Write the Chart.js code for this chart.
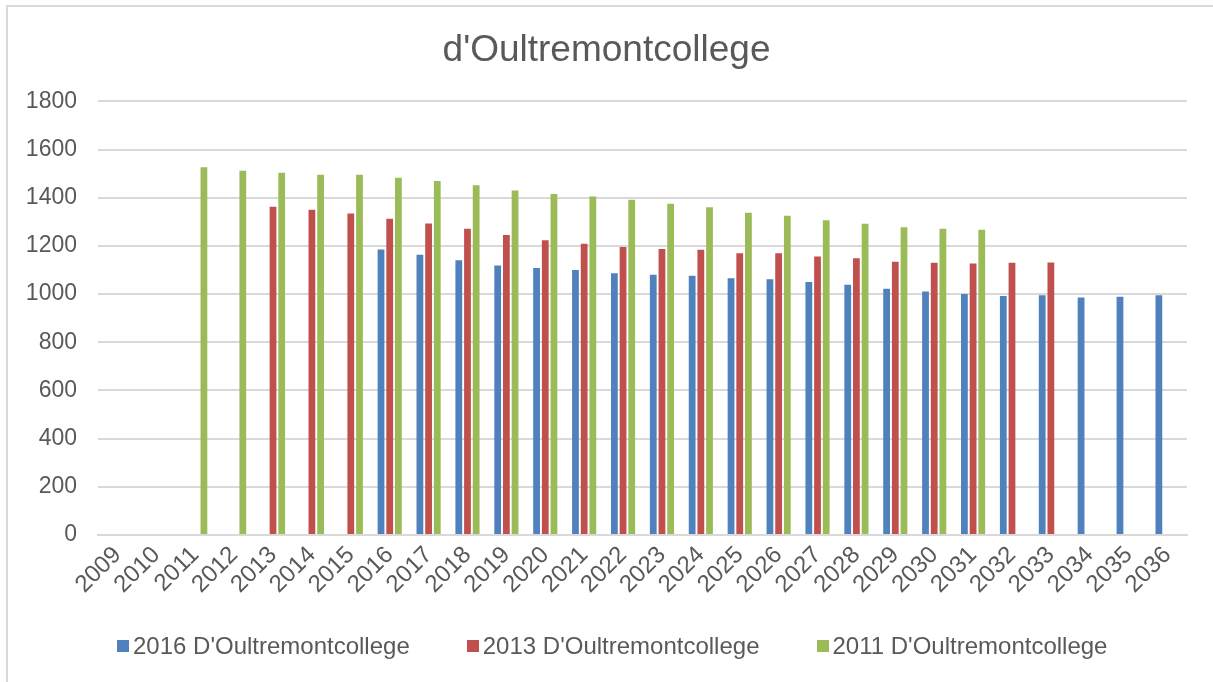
<!DOCTYPE html>
<html>
<head>
<meta charset="utf-8">
<script src="https://cdn.jsdelivr.net/npm/chart.js@4.4.0/dist/chart.umd.min.js"></script>
<style>
  html, body { margin: 0; padding: 0; background: #fff; overflow: hidden; }
  #wrap { position: relative; width: 1213px; height: 682px; overflow: hidden; font-family: 'Liberation Sans', Arial, sans-serif; }
  #frame { position: absolute; left: 6px; top: 5px; width: 1240px; height: 700px; border-left: 2px solid #d9d9d9; border-top: 2px solid #d9d9d9; }
  canvas { position: absolute; left: 0; top: 0; }
  #legenda { position: absolute; left: 117px; top: 632px; display: flex; gap: 57px; color: #595959; font-size: 24px; line-height: 28px; white-space: nowrap; }
  #legenda .item { display: flex; align-items: center; }
  #legenda .blok { width: 12px; height: 12px; margin-right: 4px; }
</style>
</head>
<body>
<div id="wrap">
  <div id="frame"></div>
  <canvas id="grafico" width="1213" height="682"></canvas>
  <div id="legenda"></div>
</div>
<script>
// jaren op de x-as
const jaren = ["2009","2010","2011","2012","2013","2014","2015","2016","2017","2018","2019","2020","2021","2022",
               "2023","2024","2025","2026","2027","2028","2029","2030","2031","2032","2033","2034","2035","2036"];

// prognoses per jaar van uitgave
const prognose2016 = [null,null,null,null,null,null,null,1185,1163,1140,1119,1108,1100,1086,
                      1080,1076,1066,1062,1050,1039,1022,1011,1000,992,995,986,989,995];
const prognose2013 = [null,null,null,null,1363,1350,1334,1313,1293,1271,1245,1223,1209,1195,
                      1187,1184,1169,1169,1156,1149,1134,1130,1127,1130,1131,null,null,null];
const prognose2011 = [null,null,1527,1512,1504,1495,1495,1483,1469,1452,1430,1416,1405,1392,
                      1375,1360,1338,1325,1306,1292,1277,1271,1267,null,null,null,null,null];

const labelsReeks = ["2016 D'Oultremontcollege", "2013 D'Oultremontcollege", "2011 D'Oultremontcollege"];
const kleuren = ['#4f81bd', '#c0504d', '#9bbb59'];
const yTicks = [0, 200, 400, 600, 800, 1000, 1200, 1400, 1600, 1800];

const grijs = '#595959';
const lijn = '#d9d9d9';
Chart.defaults.font.family = "'Liberation Sans', Arial, sans-serif";
Chart.defaults.color = grijs;

const ctx = document.getElementById("grafico").getContext("2d");
const grafiek = new Chart(ctx, {
    type: 'bar',
    data: {
        labels: jaren,
        datasets: [
            { label: labelsReeks[0], data: prognose2016, backgroundColor: kleuren[0] },
            { label: labelsReeks[1], data: prognose2013, backgroundColor: kleuren[1] },
            { label: labelsReeks[2], data: prognose2011, backgroundColor: kleuren[2] }
        ]
    },
    options: {
        responsive: false,
        animation: false,
        datasets: { bar: { categoryPercentage: 0.67, barPercentage: 0.78 } },
        layout: { padding: { left: 26, right: 26, top: 29, bottom: 77 } },
        plugins: {
            title: {
                display: true,
                text: "d'Oultremontcollege",
                color: grijs,
                font: { size: 37, weight: 'normal' },
                padding: { top: 0, bottom: 28 }
            },
            legend: { display: false },
            tooltip: { enabled: false }
        },
        scales: {
            x: {
                grid: { display: false, drawTicks: false },
                border: { color: lijn, width: 2 },
                ticks: { font: { size: 24 }, color: grijs, autoSkip: false, minRotation: 45, maxRotation: 45, padding: 6 }
            },
            y: {
                min: 0,
                max: 1800,
                afterBuildTicks: axis => { axis.ticks = yTicks.map(v => ({ value: v })); },
                afterFit: axis => { axis.width = 72; },
                grid: { color: lijn, lineWidth: 2, drawTicks: false },
                border: { display: false },
                ticks: { font: { size: 23 }, color: grijs, padding: 21, callback: v => String(v) }
            }
        }
    }
});

// legenda onder de grafiek
document.getElementById("legenda").innerHTML = grafiek.data.datasets.map(d =>
    `<div class="item"><span class="blok" style="background:${d.backgroundColor}"></span>${d.label}</div>`
).join("");
</script>
</body>
</html>
